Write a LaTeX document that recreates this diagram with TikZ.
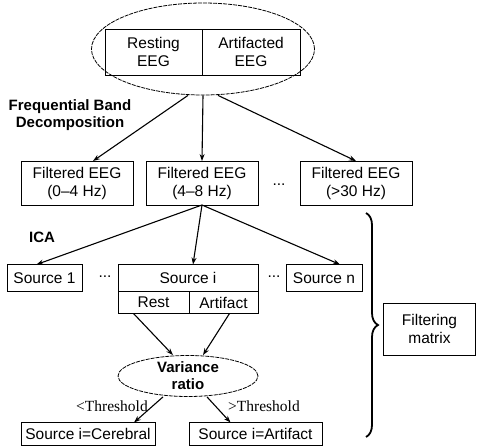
\documentclass[tikz,border=0pt]{standalone}
\usepackage{fontspec}
\setmainfont{Liberation Sans}
\newfontfamily\thrfont{Liberation Serif}
\usetikzlibrary{arrows.meta,positioning,shapes.geometric,decorations.pathreplacing}

\begin{document}
\begin{tikzpicture}[
  x=1pt, y=-1pt,
  font=\fontsize{15.5}{18}\selectfont,
  box/.style={rectangle, draw, line width=0.9pt, inner sep=0pt, outer sep=0pt, align=center},
  oval/.style={ellipse, draw, dash pattern=on 4pt off 1pt, line width=0.8pt, inner sep=0pt, align=center},
  lbl/.style={font=\fontsize{15}{17}\selectfont\bfseries, align=center},
  thr/.style={font=\fontsize{15.5}{18}\thrfont},
  arr/.style={-{Stealth[length=7pt,width=5pt]}, line width=1.1pt}
]
\useasboundingbox (0,0) rectangle (477,447);

% input signals
\node[oval, minimum width=223pt, minimum height=92pt] (raw) at (203,49) {};
\node[box, minimum width=97pt, minimum height=46pt] (rest) at (153.5,52) {Resting\\EEG};
\node[box, minimum width=98pt, minimum height=46pt, right=0pt of rest] (artf) {Artifacted\\EEG};
\node[lbl] (fbd) at (70,115) {Frequential Band\\Decomposition};

% frequency bands
\node[box, minimum width=112pt, minimum height=44pt] (f1) at (77,183) {Filtered EEG\\(0--4 Hz)};
\node[box, minimum width=112pt, minimum height=44pt] (f2) at (202,183) {Filtered EEG\\(4--8 Hz)};
\node (dots1) at (279,185) {...};
\node[box, minimum width=112pt, minimum height=44pt] (f3) at (356,183) {Filtered EEG\\(>30 Hz)};
\node[lbl] (ica) at (42,237) {ICA};

% sources
\node[box, minimum width=75pt, minimum height=27pt] (s1) at (44.5,278) {Source 1};
\node (dots2) at (105,277) {...};
\node[box, minimum width=140pt, minimum height=27pt] (si) at (188,278) {Source i};
\node (dots3) at (274,277) {...};
\node[box, minimum width=76pt, minimum height=27pt] (sn) at (324,278) {Source n};
\node[box, minimum width=71pt, minimum height=22pt, anchor=north west] (sr) at (si.south west) {Rest};
\node[box, minimum width=69pt, minimum height=22pt, anchor=north east] (sa) at (si.south east) {Artifact};

% decision
\node[oval, font=\fontsize{15}{17}\selectfont\bfseries, minimum width=140pt, minimum height=41pt] (var) at (188,376) {Variance\\ratio};
\node[thr] (lt) at (112,406) {<Threshold};
\node[thr] (gt) at (264,406) {>Threshold};
\node[box, minimum width=134pt, minimum height=23pt] (cer) at (88,434) {Source i=Cerebral};
\node[box, minimum width=133pt, minimum height=23pt] (art) at (255.5,434) {Source i=Artifact};

% filtering matrix
\coordinate (btop) at (366,213);
\coordinate (bbot) at (366,437);
\node[box, minimum width=92pt, minimum height=52pt] (fm) at (429.5,329) {Filtering\\matrix};

\draw[arr] ([xshift=-15pt]raw.south) -- ([xshift=16pt]f1.north);
\draw[arr] (raw.south) -- (f2.north);
\draw[arr] ([xshift=15pt]raw.south) -- (f3.north);
\draw[arr] (f2.south) -- ([xshift=-8pt]s1.north);
\draw[arr] (f2.south) -- ([xshift=5pt]si.north);
\draw[arr] (f2.south) -- ([xshift=16pt]sn.north);
\draw[arr] ([xshift=-20pt]sr.south) -- ([xshift=-15pt]var.north);
\draw[arr] ([xshift=6pt]sa.south) -- ([xshift=15pt]var.north);
\draw[arr] ([xshift=-25pt]var.south) -- ([xshift=46pt]cer.north);
\draw[arr] ([xshift=19pt]var.south) -- ([xshift=-25pt]art.north);
\draw[decorate, decoration={brace, amplitude=12pt}, line width=1.8pt] (btop) -- (bbot);
\end{tikzpicture}
\end{document}
